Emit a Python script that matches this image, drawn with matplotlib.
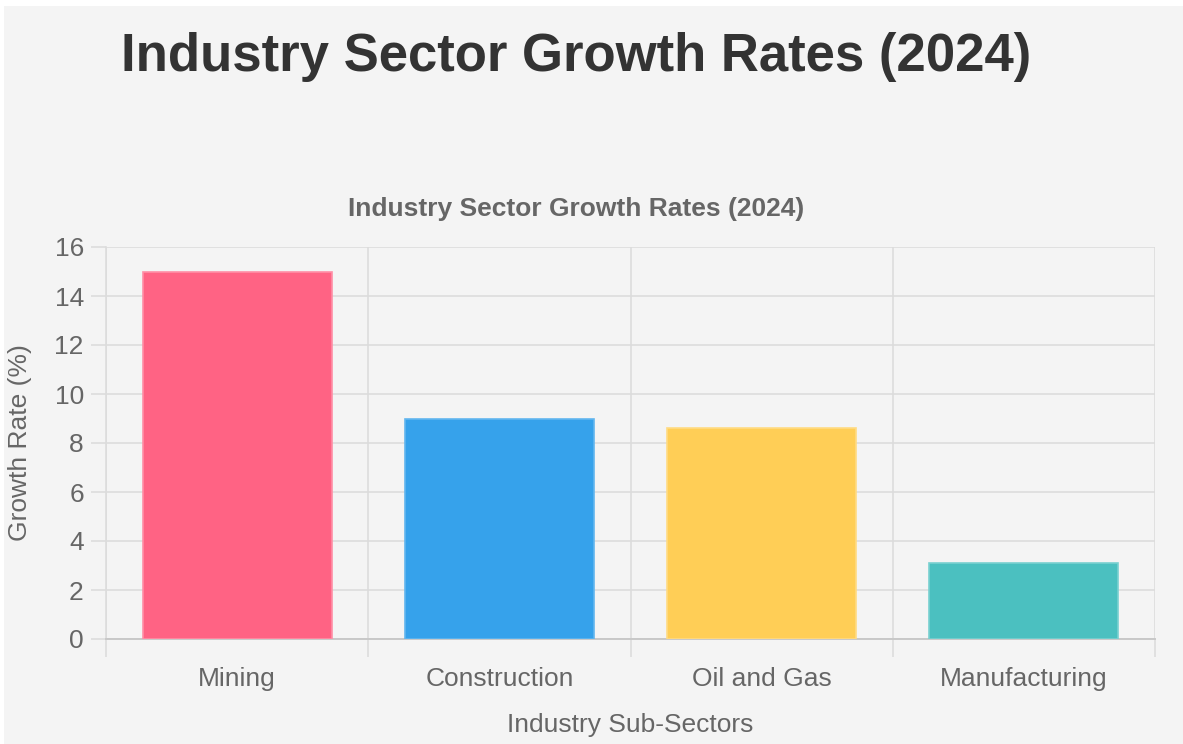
import matplotlib
matplotlib.use('Agg')
import matplotlib.pyplot as plt
from matplotlib.patches import Rectangle

# chart data
sectors = ['Mining', 'Construction', 'Oil and Gas', 'Manufacturing']
growth = [15.0, 9.0, 8.6, 3.1]
colors = ['#ff6384', '#36a2eb', '#ffce56', '#4bc0c0']
edges = ['#ff8fa6', '#62b6ef', '#ffdb83', '#79d0d0']
yticks = [0, 2, 4, 6, 8, 10, 12, 14, 16]

plt.rcParams['font.family'] = ['Liberation Sans', 'DejaVu Sans']

W, H = 1183, 744
fig = plt.figure(figsize=(W / 100, H / 100), dpi=100, facecolor='#f4f4f4')
# thin white margins on top and left like the page
fig.patches.append(Rectangle((0, 1 - 6 / H), 1, 6 / H, transform=fig.transFigure,
                             facecolor='white', edgecolor='none', zorder=-10))
fig.patches.append(Rectangle((0, 0), 4 / W, 1, transform=fig.transFigure,
                             facecolor='white', edgecolor='none', zorder=-10))

ax = fig.add_axes([106 / W, 1 - 639 / H, (1155 - 106) / W, (639 - 247) / H])
ax.set_facecolor('none')

x = list(range(len(sectors)))
ax.bar(x, growth, width=0.72, color=colors, edgecolor=edges, linewidth=1.2, zorder=3)

ax.set_xlim(-0.5, len(sectors) - 0.5)
ax.set_ylim(0, 16)
ax.set_yticks(yticks)
ax.set_xticks(x)
ax.set_xticklabels(sectors)
ax.set_xticks([i - 0.5 for i in range(len(sectors) + 1)], minor=True)

grid_c = '#dcdcdc'
ax.grid(axis='y', color=grid_c, linewidth=1.2, zorder=0)
ax.grid(axis='x', which='minor', color=grid_c, linewidth=1.2, zorder=0)
ax.tick_params(axis='x', which='major', length=0, pad=20, labelsize=19, labelcolor='#666666')
ax.tick_params(axis='x', which='minor', length=13, width=1.2, color=grid_c)
ax.tick_params(axis='y', length=11, width=1.2, color=grid_c, pad=5, labelsize=19, labelcolor='#666666')

for s in ['top', 'right']:
    ax.spines[s].set_visible(False)
ax.spines['left'].set_color(grid_c)
ax.spines['left'].set_linewidth(1.2)
ax.spines['bottom'].set_color('#c8c8c8')
ax.spines['bottom'].set_linewidth(1.4)

ax.set_xlabel('Industry Sub-Sectors', fontsize=19, color='#666666', labelpad=16)
fig.text(20 / W, 1 - 443 / H, 'Growth Rate (%)', rotation=90, ha='center', va='center',
         fontsize=19, color='#666666')

ax.set_title('Industry Sector Growth Rates (2024)', fontsize=19, fontweight='bold',
             color='#666666', pad=0, x=(576 - 106) / (1155 - 106), y=1 + 38 / 392, va='center')

fig.text(576 / W, 1 - 57 / H, 'Industry Sector Growth Rates (2024)', ha='center', va='center',
         fontsize=38, fontweight='bold', color='#333333')

fig.savefig('out.png', dpi=100, facecolor=fig.get_facecolor())
